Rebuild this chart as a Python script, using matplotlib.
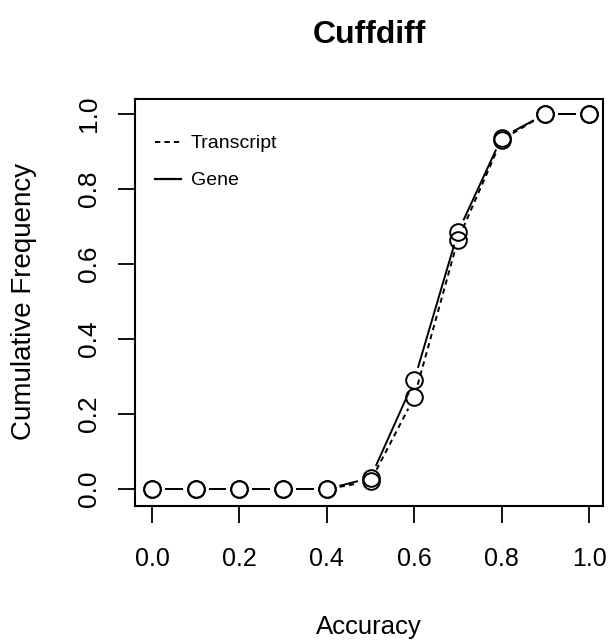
import numpy as np
import matplotlib
matplotlib.use('Agg')
import matplotlib.pyplot as plt

plt.rcParams['font.family'] = ['Liberation Sans', 'DejaVu Sans']
plt.rcParams['lines.scale_dashes'] = False

# data
accuracy = [0.0, 0.1, 0.2, 0.3, 0.4, 0.5, 0.6, 0.7, 0.8, 0.9, 1.0]
transcript = [0.0, 0.0, 0.0, 0.0, 0.0, 0.021, 0.245, 0.665, 0.931, 1.0, 1.0]
gene = [0.0, 0.0, 0.0, 0.0, 0.0, 0.030, 0.290, 0.685, 0.937, 1.0, 1.0]
series = [('Transcript', transcript, (0, (3.8, 3.0))), ('Gene', gene, '-')]
ticks = [0.0, 0.2, 0.4, 0.6, 0.8, 1.0]

W, H = 608, 640
fig = plt.figure(figsize=(W/100, H/100), dpi=100)
ax = fig.add_axes([135/W, 1-506/H, (603-135)/W, (506-99)/H])
ax.set_xlim(-0.039, 1.032)
ax.set_ylim(-0.045, 1.04)

gap = 13  # px, R type="b" style gap round each point
to_px = ax.transData
to_data = ax.transData.inverted()

for name, vals, ls in series:
    pts = to_px.transform(np.column_stack([accuracy, vals]))
    for p, q in zip(pts[:-1], pts[1:]):
        d = q - p
        L = np.hypot(*d)
        if L <= 2*gap:
            continue
        u = d / L
        seg = to_data.transform([p + u*gap, q - u*gap])
        ax.plot(seg[:, 0], seg[:, 1], color='k', lw=1.4, ls=ls,
                solid_capstyle='butt', dash_capstyle='butt')
    ax.plot(accuracy, vals, ls='', marker='o', ms=12, mfc='none',
            mec='k', mew=1.4)

# legend handles only
ax.plot([], [], color='k', lw=1.4, ls=(0, (3.8, 3.0)), label='Transcript')
ax.plot([], [], color='k', lw=1.6, ls='-', label='Gene')
ax.legend(loc='upper left', bbox_to_anchor=(0.043, 0.912), frameon=False,
          borderpad=0, borderaxespad=0, handlelength=1.35, handletextpad=0.5,
          labelspacing=1.0, prop={'size': 14})

ax.set_xticks(ticks)
ax.set_yticks(ticks)
ax.set_xticklabels(['%.1f' % t for t in ticks], fontsize=18)
ax.set_yticklabels(['%.1f' % t for t in ticks], fontsize=19, rotation=90, va='center')
ax.tick_params(axis='x', length=12.5, width=1.3, pad=17)
ax.tick_params(axis='y', length=12.5, width=1.3, pad=12)
for s in ax.spines.values():
    s.set_linewidth(1.5)

ax.set_title('Cuffdiff', fontsize=23, fontweight='bold', pad=40)
fig.text(369/W, 1-634/H, 'Accuracy', fontsize=18.5, ha='center', va='baseline')
fig.text(24/W, 1-301/H, 'Cumulative Frequency', fontsize=20, rotation=90,
         ha='center', va='center')

fig.savefig('out.png', dpi=100)
